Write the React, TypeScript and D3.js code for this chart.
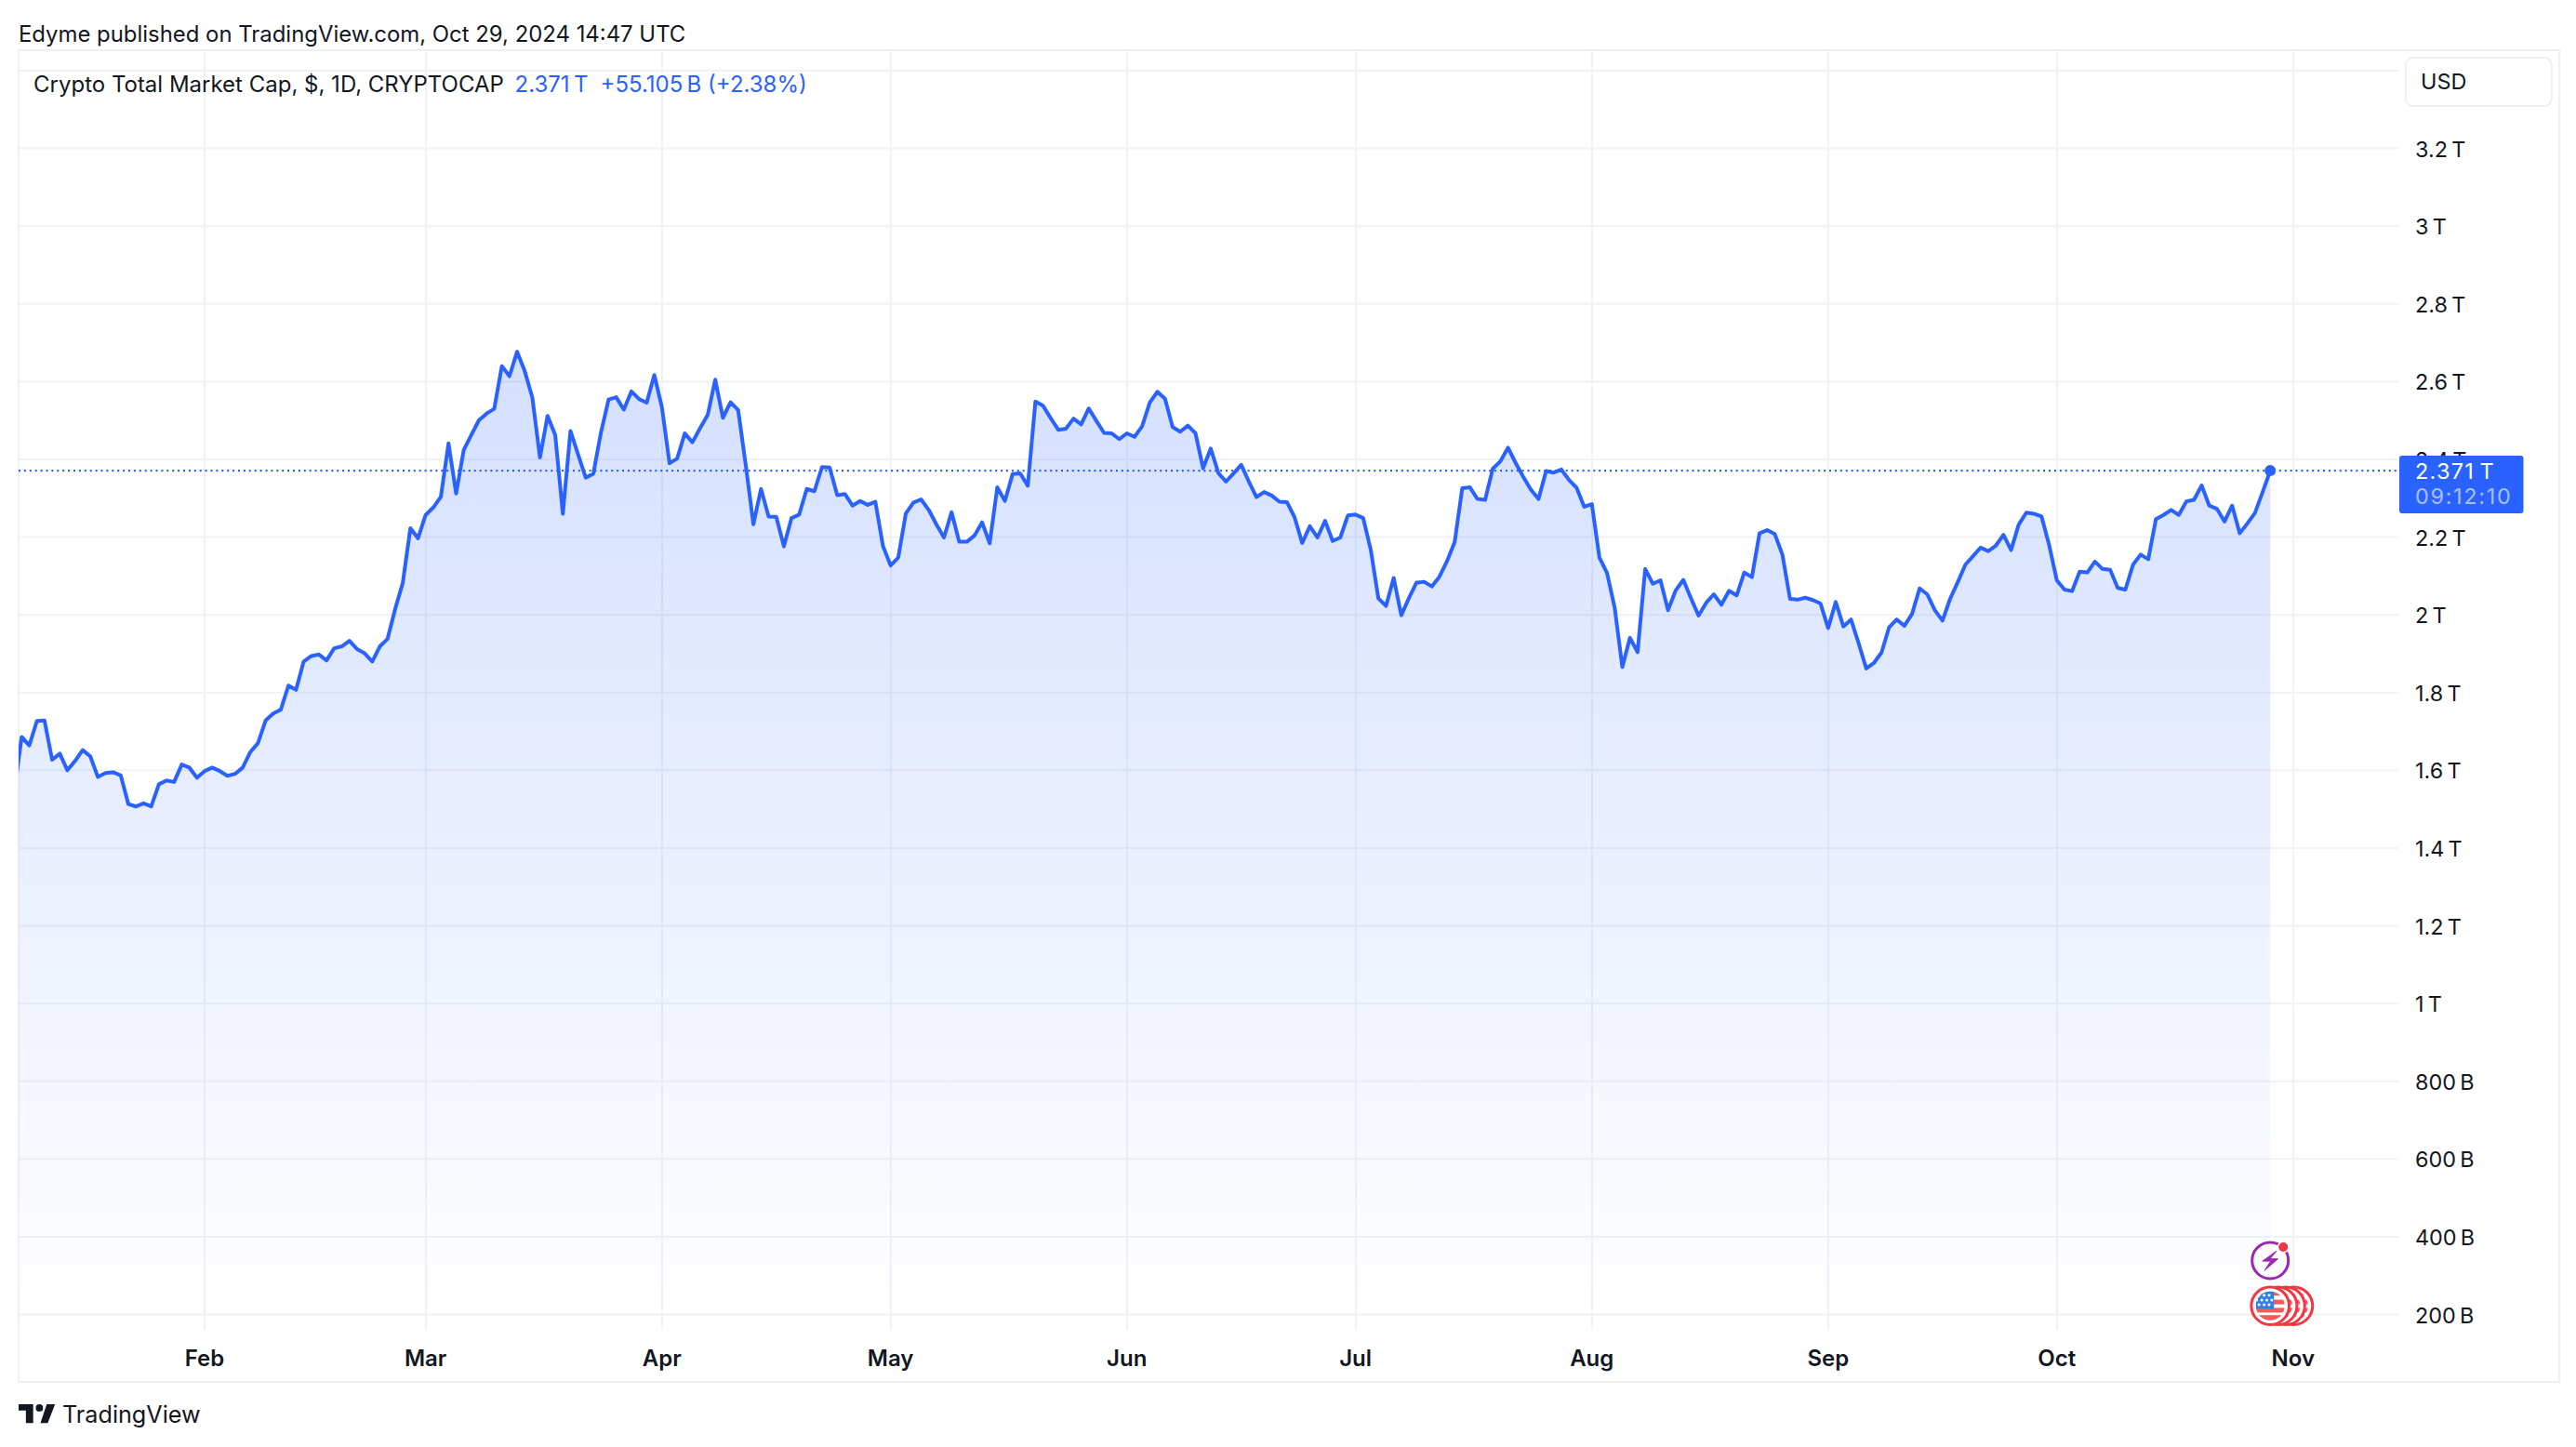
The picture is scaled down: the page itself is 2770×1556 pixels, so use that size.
import React from "react";
import * as d3 from "d3";

const startDate = new Date(Date.UTC(2024, 0, 7));
const jan = [1.54,1.686,1.664,1.727,1.728,1.627,1.643,1.6,1.624,1.652,1.636,1.583,1.593,1.595,1.587,1.513,1.507,1.515,1.507,1.564,1.574,1.57,1.615,1.607,1.581];
const feb = [1.598,1.607,1.598,1.586,1.591,1.607,1.647,1.67,1.728,1.746,1.756,1.818,1.807,1.88,1.894,1.898,1.883,1.914,1.919,1.933,1.912,1.901,1.88,1.919,1.938,2.015,2.082,2.223,2.197];
const mar = [2.257,2.276,2.304,2.441,2.312,2.424,2.463,2.501,2.518,2.53,2.64,2.614,2.677,2.627,2.559,2.405,2.512,2.463,2.26,2.473,2.413,2.353,2.363,2.469,2.554,2.56,2.528,2.575,2.555,2.546,2.617];
const apr = [2.534,2.39,2.402,2.467,2.444,2.48,2.514,2.605,2.507,2.547,2.527,2.385,2.233,2.324,2.253,2.252,2.176,2.249,2.258,2.324,2.318,2.38,2.379,2.308,2.311,2.281,2.293,2.283,2.291,2.177];
const may = [2.127,2.147,2.261,2.289,2.297,2.27,2.233,2.199,2.264,2.188,2.188,2.204,2.238,2.184,2.328,2.293,2.362,2.364,2.332,2.549,2.538,2.506,2.476,2.479,2.505,2.49,2.531,2.499,2.468,2.467,2.452];
const jun = [2.467,2.458,2.485,2.546,2.574,2.556,2.483,2.471,2.487,2.467,2.377,2.428,2.365,2.343,2.364,2.386,2.343,2.303,2.316,2.307,2.291,2.29,2.251,2.185,2.228,2.199,2.242,2.19,2.199,2.256];
const jul = [2.258,2.249,2.167,2.042,2.023,2.095,1.999,2.043,2.083,2.085,2.073,2.098,2.138,2.187,2.326,2.328,2.298,2.296,2.376,2.395,2.43,2.391,2.355,2.322,2.298,2.37,2.366,2.374,2.347,2.327,2.278];
const aug = [2.285,2.147,2.107,2.018,1.866,1.941,1.904,2.118,2.08,2.089,2.012,2.063,2.09,2.043,1.998,2.031,2.053,2.026,2.062,2.05,2.109,2.097,2.21,2.218,2.208,2.155,2.041,2.039,2.044,2.038,2.029];
const sep = [1.966,2.033,1.97,1.988,1.927,1.862,1.876,1.903,1.968,1.988,1.972,2.002,2.068,2.053,2.012,1.985,2.041,2.084,2.129,2.151,2.173,2.164,2.178,2.206,2.167,2.232,2.263,2.26,2.253,2.179];
const oct = [2.089,2.065,2.061,2.111,2.109,2.137,2.118,2.116,2.069,2.065,2.129,2.155,2.143,2.246,2.257,2.27,2.257,2.292,2.296,2.333,2.281,2.273,2.24,2.281,2.21,2.235,2.262,2.316,2.371];
const priceValues = [...jan, ...feb, ...mar, ...apr, ...may, ...jun, ...jul, ...aug, ...sep, ...oct];

const yTickValues = [0.2,0.4,0.6,0.8,1,1.2,1.4,1.6,1.8,2,2.2,2.4,2.6,2.8,3,3.2,3.4];
const yTickLabels = ["200\u202fB","400\u202fB","600\u202fB","800\u202fB","1\u202fT","1.2\u202fT","1.4\u202fT","1.6\u202fT","1.8\u202fT","2\u202fT","2.2\u202fT","2.4\u202fT","2.6\u202fT","2.8\u202fT","3\u202fT","3.2\u202fT",""];
const monthLabels = ["Feb","Mar","Apr","May","Jun","Jul","Aug","Sep","Oct","Nov"];
const monthStarts = monthLabels.map((_, i) => new Date(Date.UTC(2024, i + 1, 1)));

const credit = "Edyme published on TradingView.com, Oct 29, 2024 14:47 UTC";
const legendTitle = "Crypto Total Market Cap, $, 1D, CRYPTOCAP";
const legendValue = "2.371\u202fT";
const legendChange = "+55.105\u202fB (+2.38%)";
const lastLabel = "2.371\u202fT";
const countdown = "09:12:10";

const FONT = "Inter, sans-serif";
const BLUE = "#2962ff";
const GRID = "#f1f2f4";
const FRAME = "#eff0f4";
const INK = "#131722";

const frame = { left: 20, right: 2752, top: 54, bottom: 1486 };
const pane = { right: 2579, bottom: 1430 };

const DAY = 86400000;
const x = d3.scaleUtc()
  .domain([new Date(Date.UTC(2024, 1, 1)), new Date(Date.UTC(2024, 9, 29))])
  .range([220, 2441.2]);
const y = d3.scaleLinear().domain([0.2, 3.2]).range([1413.5, 159.6]);

const points = priceValues.map((v, i) => ({ d: new Date(startDate.getTime() + i * DAY), v }));
const line = d3.line<{ d: Date; v: number }>().x(p => x(p.d)).y(p => y(p.v));
const area = d3.area<{ d: Date; v: number }>().x(p => x(p.d)).y0(pane.bottom).y1(p => y(p.v));
const last = points[points.length - 1];
const lastY = y(last.v);
const lastX = x(last.d);

const flagOffsets = [3, 2, 1, 0];
const starRows = [[0, 1, 2], [0, 1, 2, 3], [0, 1, 2]];

function FlagBadge({ cx, cy, id }: { cx: number; cy: number; id: string }) {
  return (
    <g>
      <defs>
        <clipPath id={id}><circle cx={cx} cy={cy} r={15.5} /></clipPath>
      </defs>
      <circle cx={cx} cy={cy} r={20.3} fill="#fff" stroke="#f23645" strokeWidth={3} />
      <g clipPath={`url(#${id})`}>
        <rect x={cx - 17} y={cy - 17} width={34} height={34} fill="#fff" />
        {[-16, -6.6, 2.2, 10].map((o, i) => (
          <rect key={i} x={cx - 17} y={cy + o} width={34} height={i === 3 ? 8 : 5} fill="#f45b5b" />
        ))}
        <rect x={cx - 16} y={cy - 17} width={20} height={20} fill="#2f80e8" />
        {starRows.map((row, r) => row.map(c => (
          <circle key={`${r}-${c}`} cx={cx - 13 + c * 5.4 + (r === 1 ? -1.5 : 1)} cy={cy - 11.5 + r * 5.2} r={1.5} fill="#fff" />
        )))}
      </g>
    </g>
  );
}

export default function App() {
  const gx = (d: Date) => Math.round(x(d));
  return (
    <svg width={2770} height={1556} viewBox="0 0 2770 1556"
      style={{ position: "fixed", left: 0, top: 0, background: "#fff", display: "block" }}
      fontFamily={FONT}>
      <defs>
        <linearGradient id="fill" gradientUnits="userSpaceOnUse" x1={0} x2={0} y1={y(2.677)} y2={pane.bottom}>
          <stop offset="0" stopColor={BLUE} stopOpacity={0.2} />
          <stop offset="1" stopColor={BLUE} stopOpacity={0} />
        </linearGradient>
        <clipPath id="plot"><rect x={frame.left} y={frame.top} width={pane.right - frame.left} height={pane.bottom - frame.top} /></clipPath>
      </defs>

      <text x={20} y={36} dy="0.36em" fontSize={23.9} fill={INK}>{credit}</text>

      <rect x={frame.left} y={frame.top} width={frame.right - frame.left} height={frame.bottom - frame.top} fill="#fff" stroke={FRAME} strokeWidth={2} />

      {yTickValues.map(t => (
        <line key={t} x1={frame.left} x2={pane.right} y1={y(t)} y2={y(t)} stroke={GRID} strokeWidth={2} />
      ))}
      {monthStarts.map((m, i) => (
        <line key={i} x1={gx(m)} x2={gx(m)} y1={frame.top} y2={pane.bottom} stroke={GRID} strokeWidth={2} />
      ))}

      <g clipPath="url(#plot)">
        <path d={area(points) ?? ""} fill="url(#fill)" />
        <line x1={frame.left} x2={pane.right} y1={lastY} y2={lastY} stroke={BLUE} strokeWidth={2.2} strokeDasharray="2 3.9" />
        <path d={line(points) ?? ""} fill="none" stroke={BLUE} strokeWidth={4} strokeLinejoin="round" strokeLinecap="round" />
        <circle cx={lastX} cy={lastY} r={6} fill={BLUE} />
      </g>

      <text x={36} y={90} dy="0.36em" fontSize={24} fill={INK}>{legendTitle}</text>
      <text x={553.5} y={90} dy="0.36em" fontSize={24} fill={BLUE}>{legendValue}</text>
      <text x={645.5} y={90} dy="0.36em" fontSize={24} fill={BLUE}>{legendChange}</text>

      <rect x={2587} y={62} width={157} height={52} rx={8} fill="#fff" stroke={FRAME} strokeWidth={2} />
      <text x={2603} y={88} dy="0.36em" fontSize={23.4} fill={INK}>USD</text>

      {yTickValues.map((t, i) => (
        <text key={t} x={2597} y={y(t) + 0.6} dy="0.36em" fontSize={23.4} fill={INK}>{yTickLabels[i]}</text>
      ))}

      <rect x={2580} y={490} width={133.5} height={62} rx={3} fill={BLUE} />
      <text x={2597} y={507} dy="0.36em" fontSize={23.4} letterSpacing={1.3} fill="#fff">{lastLabel}</text>
      <text x={2597} y={534} dy="0.36em" fontSize={23.4} letterSpacing={1.7} fill="#fff" fillOpacity={0.6}>{countdown}</text>

      {monthLabels.map((l, i) => (
        <text key={l} x={x(monthStarts[i])} y={1460} dy="0.36em" textAnchor="middle" fontSize={24} fontWeight={600} fill={INK}>{l}</text>
      ))}

      {flagOffsets.map(k => <FlagBadge key={k} cx={lastX + k * 8.4} cy={1404.2} id={`flag${k}`} />)}
      <circle cx={lastX} cy={1355.4} r={19.5} fill="#fff" stroke="#9c27b0" strokeWidth={3} />
      <path d={`M${lastX + 6.7} ${1345.4} L${lastX - 8.3} ${1356.1} L${lastX + 0.7} ${1356.1} L${lastX - 6} ${1366.1} L${lastX + 8.3} ${1353.7} L${lastX - 0.3} ${1353.7} Z`} fill="#9c27b0" stroke="#9c27b0" strokeWidth={1} strokeLinejoin="round" />
      <circle cx={lastX + 14} cy={1341} r={6.5} fill="#fff" />
      <circle cx={lastX + 14} cy={1341} r={5} fill="#f23645" />

      <path transform="translate(20 1510) scale(1.12)" d="M14 0H0v6h7v12h7V0Zm14 18h-7l6-18h8l-7 18ZM20 7a3.5 3.5 0 1 0 0-7 3.5 3.5 0 0 0 0 7Z" fill={INK} />
      <text x={67} y={1521} dy="0.36em" fontSize={25.2} fill={INK}>TradingView</text>
    </svg>
  );
}
